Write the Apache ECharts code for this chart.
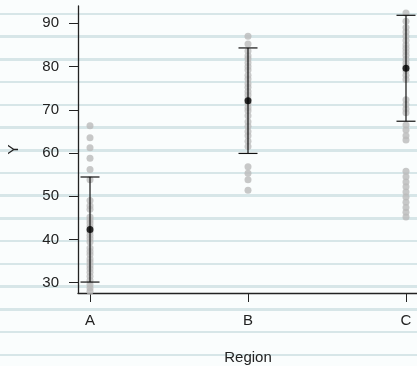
<!DOCTYPE html>
<html>
<head>
<meta charset="utf-8">
<script src="https://cdn.jsdelivr.net/npm/echarts@6/dist/echarts.min.js"></script>
<style>
  html, body { margin: 0; padding: 0; background: #ffffff; }
  #chart {
    width: 417px; height: 366px;
    background-color: #fafdfd;
    background-image: repeating-linear-gradient(to bottom,
      rgba(0,0,0,0) 0px, rgba(0,0,0,0) 12.6px,
      #d7e6e8 12.6px, #d7e6e8 15.2px,
      rgba(0,0,0,0) 15.2px, rgba(0,0,0,0) 22.73px);
  }
</style>
</head>
<body>
<div id="chart"></div>
<script>
// ---- data ----
const categories = ['A', 'B', 'C'];
const yTicks = [30, 40, 50, 60, 70, 80, 90];
const groupA = [66.3, 63.5, 61.2, 58.8, 56.2, 53.8, 49.0, 47.8, 47.0, 45.2, 44.5, 43.8, 43.0,
  41.8, 41.0, 40.2, 39.4, 38.0, 37.2, 36.5, 35.5, 34.8, 34.0, 33.2, 32.4, 31.5, 30.5, 29.6, 28.8, 28.0];
const groupB = [87.0, 85.2, 83.6, 82.5, 81.8, 80.9, 80.0, 79.2, 78.0, 77.1, 76.0, 75.2, 74.2,
  73.4, 72.5, 71.5, 70.5, 69.8, 68.6, 67.2, 66.2, 65.0, 64.0, 62.7, 61.5, 56.8, 55.3, 53.8, 51.4];
const groupC = [92.4, 90.5, 89.0, 88.0, 87.0, 86.0, 85.0, 84.2, 83.4, 82.6, 81.7, 80.8, 80.0,
  79.0, 78.0, 77.0, 72.3, 71.2, 70.2, 69.3, 66.5, 65.3, 64.0, 63.0, 55.8, 54.5, 53.3, 52.2,
  51.0, 49.8, 48.6, 47.4, 46.3, 45.2];
const means = [42.3, 72.1, 79.6];
const sds = [12.15, 12.2, 12.25];

const groups = [groupA, groupB, groupC];
const pointData = [];
groups.forEach((g, i) => g.forEach(v => pointData.push([i + 1, v])));
const meanData = means.map((m, i) => [i + 1, m]);
const errData = means.map((m, i) => [i + 1, m - sds[i], m + sds[i]]);
const catPos = categories.map((c, i) => i + 1);

const FONT = 'Liberation Sans, Arial, Helvetica, sans-serif';
const chart = echarts.init(document.getElementById('chart'), null, { renderer: 'canvas' });
chart.setOption({
  animation: false,
  backgroundColor: 'transparent',
  grid: { left: 78, top: 6, width: 340, height: 287, containLabel: false, outerBoundsMode: 'none' },
  xAxis: {
    type: 'value', min: 0.924, max: 3.076,
    name: 'Region', nameLocation: 'middle', nameGap: 57,
    nameTextStyle: { color: '#222', fontSize: 15, fontFamily: FONT },
    axisLine: { show: true, onZero: false, lineStyle: { color: '#222', width: 1.3 } },
    axisTick: { show: true, length: 9, customValues: catPos, lineStyle: { color: '#222', width: 1 } },
    axisLabel: { customValues: catPos, margin: 20, color: '#222', fontSize: 15, fontFamily: FONT,
      formatter: v => categories[Math.round(v) - 1] },
    splitLine: { show: false }
  },
  yAxis: {
    type: 'value', min: 27.62, max: 94.0,
    name: 'Y', nameLocation: 'middle', nameGap: 57,
    nameTextStyle: { color: '#222', fontSize: 15, fontFamily: FONT },
    axisLine: { show: true, onZero: false, lineStyle: { color: '#222', width: 1.3 } },
    axisTick: { show: true, length: 9, customValues: yTicks, lineStyle: { color: '#222', width: 1 } },
    axisLabel: { customValues: yTicks, margin: 19, color: '#222', fontSize: 15, fontFamily: FONT },
    splitLine: { show: false }
  },
  series: [
    {
      type: 'scatter', data: pointData, symbol: 'circle', symbolSize: 7,
      itemStyle: { color: '#bababa' }, z: 2
    },
    {
      type: 'custom', data: errData, z: 3,
      renderItem: function (params, api) {
        const x = api.value(0);
        const lo = api.coord([x, api.value(1)]);
        const hi = api.coord([x, api.value(2)]);
        const w = 9.5;
        const style = { stroke: '#111', lineWidth: 1.2 };
        return {
          type: 'group',
          children: [
            { type: 'line', shape: { x1: lo[0], y1: lo[1], x2: hi[0], y2: hi[1] }, style },
            { type: 'line', shape: { x1: hi[0] - w, y1: hi[1], x2: hi[0] + w, y2: hi[1] }, style },
            { type: 'line', shape: { x1: lo[0] - w, y1: lo[1], x2: lo[0] + w, y2: lo[1] }, style }
          ]
        };
      }
    },
    {
      type: 'scatter', data: meanData, symbol: 'circle', symbolSize: 7,
      itemStyle: { color: '#000' }, z: 4
    }
  ]
});
</script>
</body>
</html>
